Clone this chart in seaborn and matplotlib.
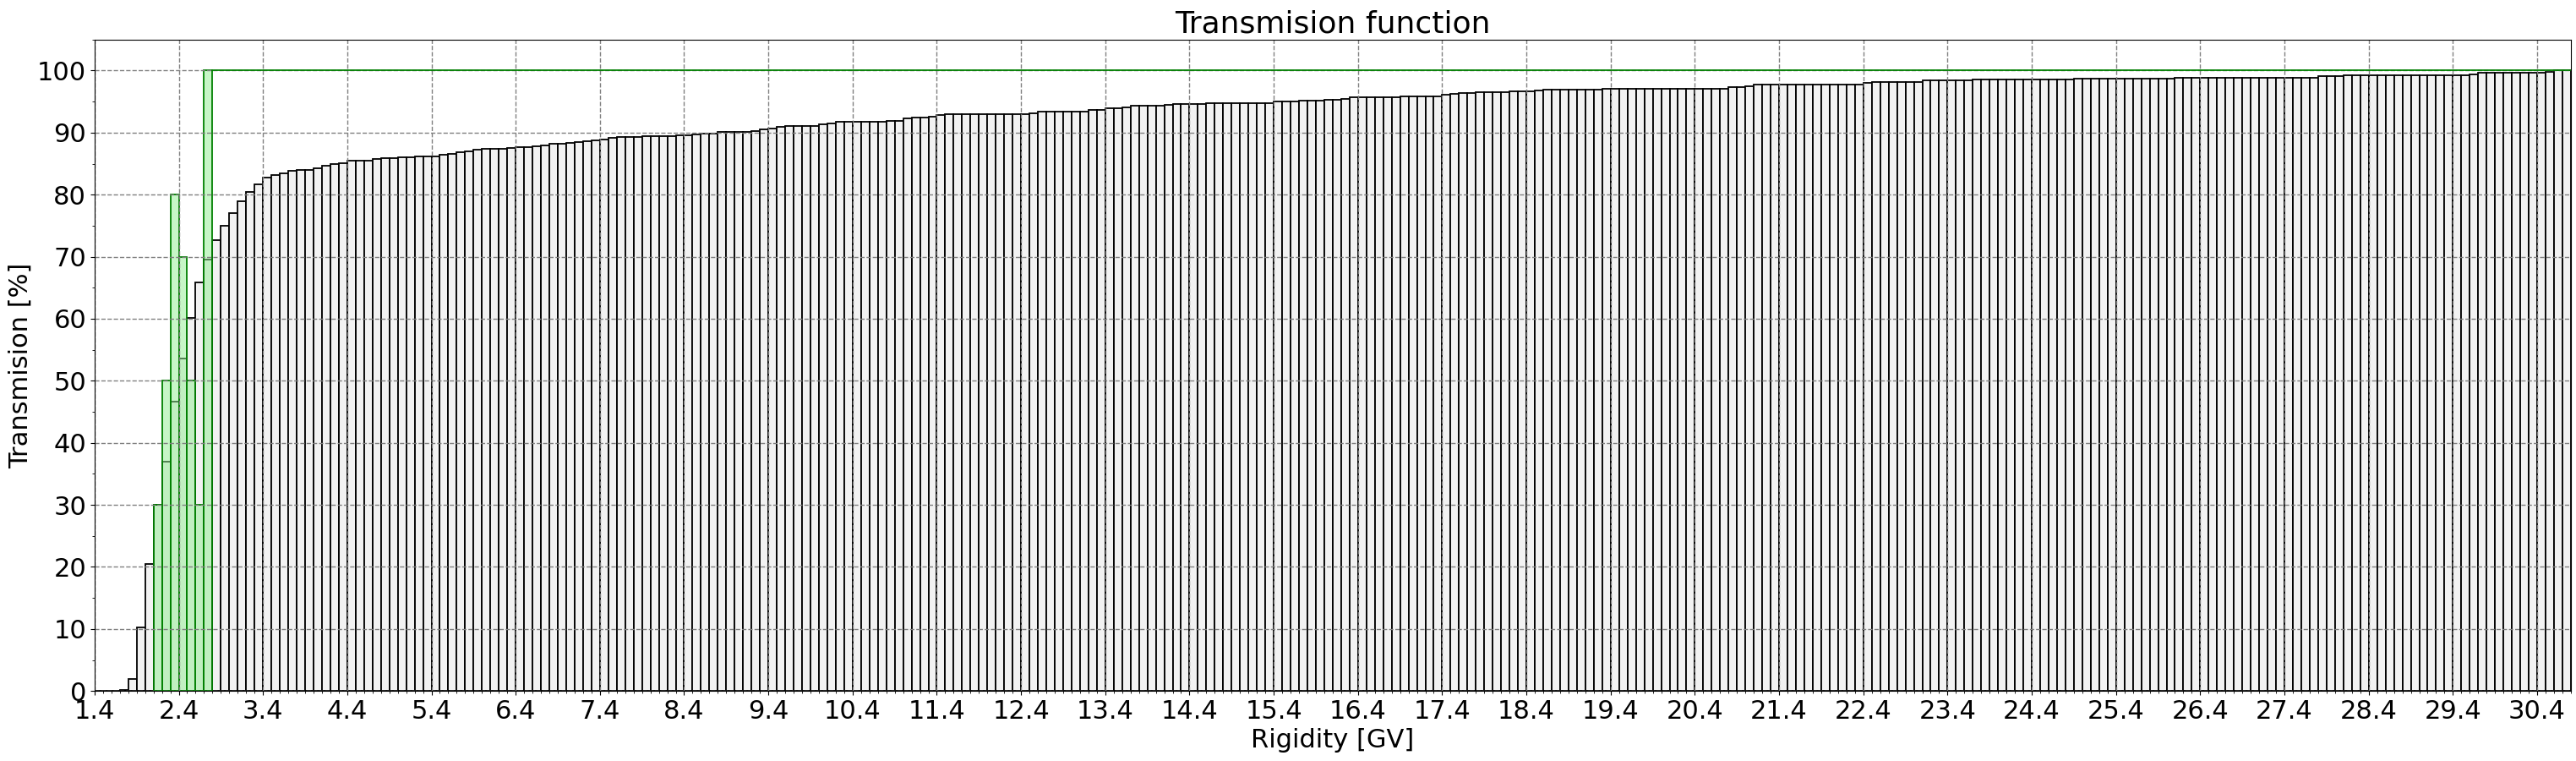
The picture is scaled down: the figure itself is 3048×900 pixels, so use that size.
import numpy as np
import pandas as pd
import matplotlib
matplotlib.use("Agg")
import matplotlib.pyplot as plt
from matplotlib.ticker import MultipleLocator
from matplotlib.colors import to_rgba
import seaborn as sns

# rigidity bins (GV), 0.1 GV wide, first bin starts at 1.4
rigidity_start = 1.4
bin_width = 0.1

# transmission per bin [%], one row per 1 GV (x.4 .. x+1.4)
transmission = [
    0.0, 0.0, 0.0, 0.2, 2.0, 10.3, 20.5, 30.0, 37.0, 46.7,
    53.6, 60.1, 65.8, 69.6, 72.7, 75.0, 77.1, 79.0, 80.5, 81.6,
    82.7, 83.1, 83.5, 83.9, 84.0, 84.0, 84.3, 84.6, 85.0, 85.1,
    85.5, 85.5, 85.5, 85.7, 85.9, 85.9, 86.0, 86.0, 86.2, 86.2,
    86.2, 86.4, 86.6, 86.8, 87.0, 87.3, 87.4, 87.4, 87.4, 87.5,
    87.7, 87.7, 87.8, 87.9, 88.2, 88.2, 88.4, 88.5, 88.6, 88.8,
    88.9, 89.1, 89.3, 89.3, 89.3, 89.4, 89.4, 89.4, 89.4, 89.6,
    89.6, 89.7, 89.9, 89.9, 90.1, 90.1, 90.1, 90.1, 90.2, 90.5,
    90.7, 91.0, 91.1, 91.1, 91.1, 91.1, 91.4, 91.5, 91.8, 91.8,
    91.8, 91.8, 91.8, 91.8, 91.9, 91.9, 92.3, 92.4, 92.4, 92.6,
    92.8, 93.0, 93.0, 93.0, 93.0, 93.0, 93.0, 93.0, 93.0, 93.0,
    93.0, 93.1, 93.4, 93.4, 93.4, 93.4, 93.4, 93.4, 93.6, 93.7,
    93.9, 93.9, 94.1, 94.3, 94.3, 94.3, 94.3, 94.5, 94.6, 94.6,
    94.6, 94.6, 94.7, 94.7, 94.7, 94.7, 94.7, 94.7, 94.7, 94.7,
    95.0, 95.0, 95.0, 95.1, 95.1, 95.1, 95.3, 95.3, 95.5, 95.7,
    95.7, 95.7, 95.7, 95.7, 95.7, 95.9, 95.9, 95.9, 95.9, 95.9,
    96.1, 96.3, 96.4, 96.4, 96.5, 96.5, 96.5, 96.5, 96.6, 96.6,
    96.6, 96.8, 96.9, 96.9, 96.9, 96.9, 96.9, 96.9, 96.9, 97.1,
    97.1, 97.1, 97.1, 97.1, 97.1, 97.1, 97.1, 97.1, 97.1, 97.1,
    97.1, 97.1, 97.1, 97.1, 97.3, 97.3, 97.5, 97.7, 97.7, 97.7,
    97.7, 97.7, 97.7, 97.7, 97.7, 97.7, 97.7, 97.7, 97.7, 97.8,
    98.0, 98.1, 98.1, 98.1, 98.1, 98.1, 98.1, 98.4, 98.4, 98.4,
    98.4, 98.4, 98.4, 98.5, 98.5, 98.5, 98.5, 98.5, 98.5, 98.5,
    98.5, 98.5, 98.5, 98.5, 98.6, 98.7, 98.7, 98.7, 98.7, 98.7,
    98.7, 98.7, 98.7, 98.7, 98.7, 98.7, 98.7, 98.9, 98.9, 98.9,
    98.9, 98.9, 98.9, 98.9, 98.9, 98.9, 98.9, 98.9, 98.9, 98.9,
    98.9, 98.9, 98.9, 98.9, 99.05, 99.05, 99.05, 99.3, 99.3, 99.3,
    99.3, 99.3, 99.3, 99.3, 99.3, 99.3, 99.3, 99.3, 99.3, 99.3,
    99.3, 99.3, 99.45, 99.6, 99.6, 99.6, 99.6, 99.6, 99.6, 99.6,
    99.6, 99.85, 100.0, 100.0,
]

# allowed (green) bins starting at 2.1 GV
allowed_start = 2.1
allowed = [30, 50, 80, 70, 50, 30, 100]

edges = np.round(rigidity_start + bin_width * np.arange(len(transmission) + 1), 2)
g_edges = np.round(allowed_start + bin_width * np.arange(len(allowed) + 1), 2)

trans_df = pd.DataFrame({"rigidity": edges[:-1] + bin_width / 2, "value": transmission})
allowed_df = pd.DataFrame({"rigidity": g_edges[:-1] + bin_width / 2, "value": allowed})

plt.rcParams['font.family'] = ['DejaVu Sans']
fig, ax = plt.subplots(figsize=(30.48, 9), dpi=100)
fig.subplots_adjust(left=0.0367, right=0.998, top=0.948, bottom=0.092)

sns.histplot(data=trans_df, x="rigidity", weights="value", bins=list(edges), stat="count",
             color="#f2f2f2", edgecolor="black", linewidth=1.3, alpha=1, ax=ax)
sns.histplot(data=allowed_df, x="rigidity", weights="value", bins=list(g_edges), stat="count",
             color="lightgreen", edgecolor="green", linewidth=1.3, ax=ax)
for p in ax.containers[-1]:
    p.set_alpha(None)
    p.set_facecolor(to_rgba("lightgreen", 0.5))
    p.set_edgecolor("green")

# allowed level kept after the last green bin
sns.lineplot(x=[g_edges[-1], edges[-1]], y=[allowed[-1], allowed[-1]],
             color="green", linewidth=1.3, ax=ax)

ax.set_axisbelow("line")
ax.set_xlim(edges[0], edges[-1])
ax.set_ylim(0, 105)
major_x = np.round(np.arange(rigidity_start, edges[-1], 1.0), 1)
ax.set_xticks(major_x)
ax.set_xticklabels([f"{v:.1f}" for v in major_x])
ax.xaxis.set_minor_locator(MultipleLocator(0.1))
ax.set_yticks(np.arange(0, 101, 10))
ax.yaxis.set_minor_locator(MultipleLocator(5))
ax.tick_params(axis="both", which="major", labelsize=22)
ax.grid(which="major", linestyle="--", color="gray", linewidth=1)

ax.set_title("Transmision function", fontsize=26)
ax.set_xlabel("Rigidity [GV]", fontsize=22)
ax.set_ylabel("Transmision [%]", fontsize=22)

plt.savefig("out.png")
